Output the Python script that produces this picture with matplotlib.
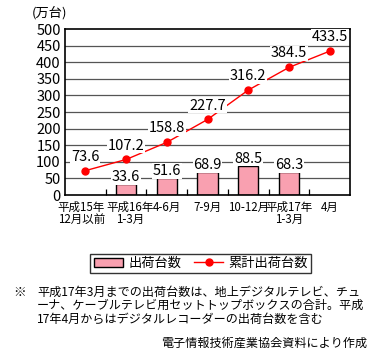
import matplotlib
matplotlib.use("Agg")
import matplotlib.pyplot as plt
import matplotlib.transforms as mtransforms
import numpy as np

plt.rcParams['font.family'] = ['Noto Sans CJK JP', 'DejaVu Sans']

categories = ["平成15年\n12月以前", "平成16年\n1-3月", "4-6月", "7-9月", "10-12月", "平成17年\n1-3月", "4月"]
shipments = [None, 33.6, 51.6, 68.9, 88.5, 68.3, None]
cumulative = [73.6, 107.2, 158.8, 227.7, 316.2, 384.5, 433.5]

bar_color = "#F9A0B0"
line_color = "#FF0000"

fig = plt.figure(figsize=(3.79, 3.56), dpi=100)
ax = fig.add_axes([0.1715, 0.452, 0.752, 0.4663])

x = np.arange(len(categories))
bx = [i for i, v in enumerate(shipments) if v is not None]
bv = [v for v in shipments if v is not None]

for y in range(50, 500, 50):
    ax.axhline(y, color="#555555", lw=0.9, zorder=0)

bars = ax.bar(bx, bv, width=0.5, color=bar_color, edgecolor="black", lw=1, zorder=2, label="出荷台数")
line, = ax.plot(x, cumulative, color=line_color, lw=1, marker="o", ms=5, zorder=3, label="累計出荷台数")

for i, v in zip(bx, bv):
    ax.annotate(f"{v}", (i, v), xytext=(0, 0), textcoords="offset points", ha="center", va="bottom",
                fontsize=10.5, bbox=dict(boxstyle="square,pad=0.05", fc="white", ec="none"), zorder=4)
for i, v in enumerate(cumulative):
    ax.annotate(f"{v}", (i, v), xytext=(0, 5), textcoords="offset points", ha="center", va="bottom",
                fontsize=10.5, bbox=dict(boxstyle="square,pad=0.05", fc="white", ec="none"), zorder=4)

ax.set_xlim(-0.5, 6.5)
ax.set_ylim(0, 500)
ax.set_yticks(range(0, 501, 50))
ax.tick_params(axis="y", length=0, labelsize=10.5, pad=3)
ax.set_xticks(x)
ax.set_xticklabels(categories, fontsize=8.3, linespacing=0.95)
ax.tick_params(axis="x", which="major", length=0, pad=4)
ax.set_xticks(np.arange(0.5, 6.5, 1), minor=True)
ax.tick_params(axis="x", which="minor", direction="in", length=4, width=0.9)
# nudge the first two labels apart like the original
shifts = [-4, 4, 0, 0, 0, 0, 0]
for lab, dx in zip(ax.get_xticklabels(), shifts):
    lab.set_transform(lab.get_transform() + mtransforms.ScaledTranslation(dx / 100, 0, fig.dpi_scale_trans))
for s in ax.spines.values():
    s.set_linewidth(1.2)

fig.text(0.084, 0.963, "(万台)", fontsize=9.5, ha="left", va="center")

leg = fig.legend([bars, line], ["出荷台数", "累計出荷台数"], loc="center", bbox_to_anchor=(0.53, 0.26),
                 ncol=2, fontsize=9.5, frameon=True, fancybox=False, edgecolor="black", handlelength=2.2,
                 columnspacing=1.0, handletextpad=0.4, borderpad=0.25)
leg.get_frame().set_linewidth(1.0)

note = ["平成17年3月までの出荷台数は、地上デジタルテレビ、チュ",
        "ーナ、ケーブルテレビ用セットトップボックスの合計。平成",
        "17年4月からはデジタルレコーダーの出荷台数を含む"]
fig.text(0.035, 1 - 292 / 356, "※", fontsize=9, ha="left", va="center")
for k, t in enumerate(note):
    fig.text(0.098, 1 - (292 + 13.5 * k) / 356, t, fontsize=8.7, ha="left", va="center")
fig.text(0.968, 1 - 343 / 356, "電子情報技術産業協会資料により作成", fontsize=8.7, ha="right", va="center")

fig.savefig("out.png", dpi=100)
